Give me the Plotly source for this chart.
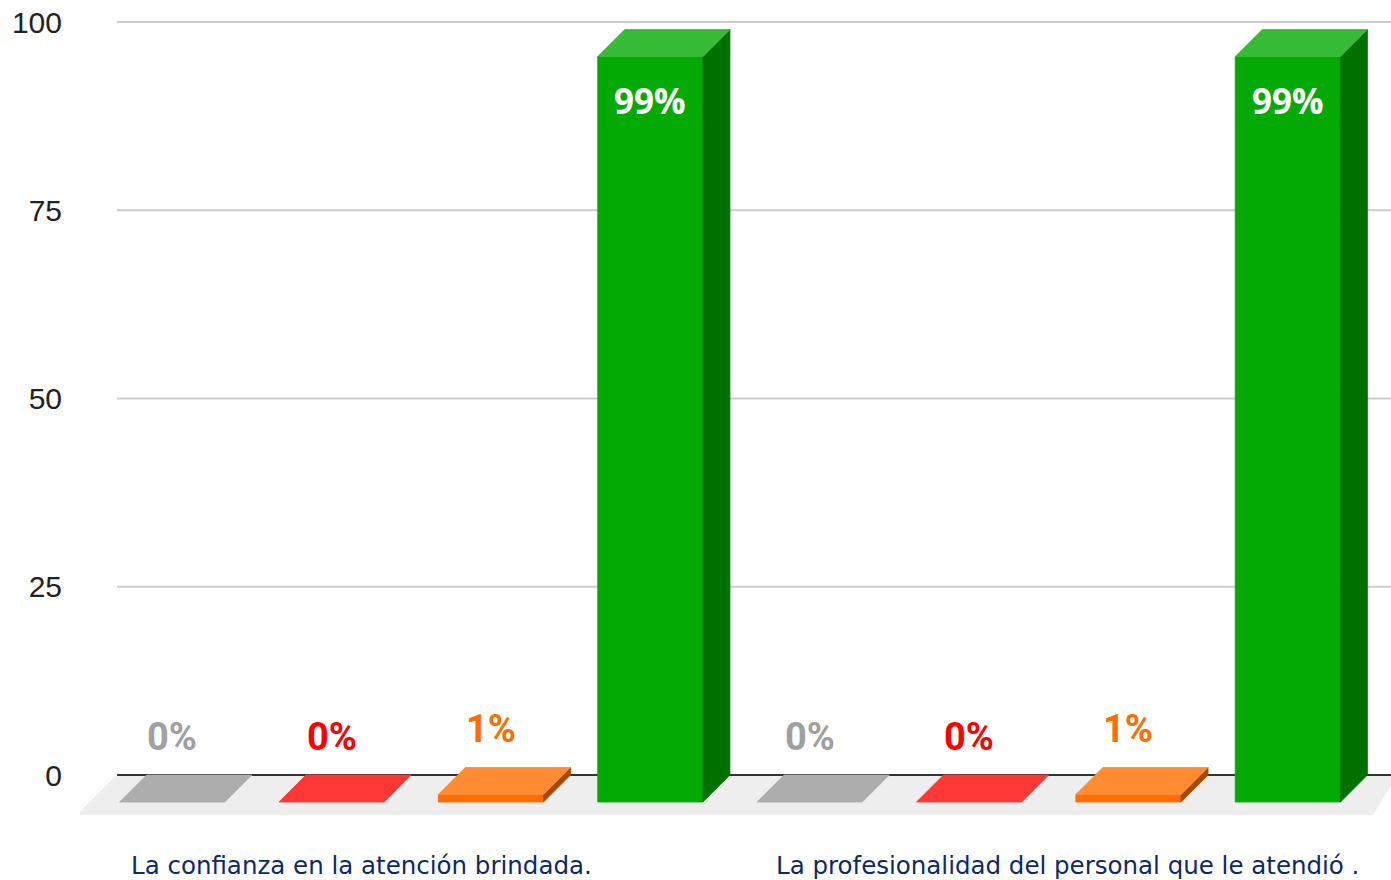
import plotly.graph_objects as go

# ---- data -------------------------------------------------------------
categorias = [
    "La confianza en la atención brindada.",
    "La profesionalidad del personal que le atendió .",
]
valores_gris = [0, 0]
valores_rojo = [0, 0]
valores_naranja = [1, 1]
valores_verde = [99, 99]
ticks_y = [0, 25, 50, 75, 100]

series = [
    # values, front, top, side, label colour
    (valores_gris, "#999999", "#adadad", "#6b6b6b", "#a0a0a0"),
    (valores_rojo, "#ff0000", "#ff3737", "#a80000", "#ff0000"),
    (valores_naranja, "#ff6d00", "#ff8c33", "#a84800", "#ff6d00"),
    (valores_verde, "#04aa04", "#37bb37", "#007000", "#ffffff"),
]

# ---- layout geometry --------------------------------------------------
W, H = 1391, 880
M_L, M_R, M_T, M_B = 80, 0, 20, 65
BAND_PX = 637.5                       # width of one category band
BAND_START_PX = 119.5                 # left edge of the first band
X_RANGE = [-(BAND_START_PX - M_L) / BAND_PX,
           (W - M_R - BAND_START_PX) / BAND_PX]
Y_RANGE = [-5.31, 100.27]
px_x = (W - M_L - M_R) / (X_RANGE[1] - X_RANGE[0])
px_y = (H - M_T - M_B) / (Y_RANGE[1] - Y_RANGE[0])
GRID_X0 = -2.5 / px_x                 # grid starts a touch left of the band

DEPTH_PX = 27          # 3D depth of every bar
FLOOR_PX = 40          # depth of the floor plane
FLOOR_RIGHT_PX = 25    # horizontal shear at the right end of the floor
dx, dy = DEPTH_PX / px_x, DEPTH_PX / px_y
n_series = len(series)
slot = 1.0 / n_series
bar_w = slot * 0.66

fig = go.Figure()


def poly(xs, ys, color):
    fig.add_trace(go.Scatter(
        x=xs + [xs[0]], y=ys + [ys[0]], mode="lines", fill="toself",
        fillcolor=color, line=dict(color=color, width=0.8),
        hoverinfo="skip", showlegend=False,
    ))


# floor
fy = -FLOOR_PX / px_y
x_right = X_RANGE[1] + 0.01
poly([GRID_X0, x_right, x_right - FLOOR_RIGHT_PX / px_x, GRID_X0 - FLOOR_PX / px_x],
     [0, 0, fy, fy], "#eeeeee")

# grid lines
for t in ticks_y[1:]:
    fig.add_trace(go.Scatter(x=[GRID_X0, x_right], y=[t, t], mode="lines",
                             line=dict(color="#cccccc", width=2),
                             hoverinfo="skip", showlegend=False))
# base line
fig.add_trace(go.Scatter(x=[GRID_X0, x_right], y=[0, 0], mode="lines",
                         line=dict(color="#333333", width=2),
                         hoverinfo="skip", showlegend=False))

annotations = []
for ci in range(len(categorias)):
    for si, (vals, c_front, c_top, c_side, c_lab) in enumerate(series):
        v = vals[ci]
        xc = ci + (si + 0.5) * slot
        bx0, bx1 = xc - bar_w / 2, xc + bar_w / 2
        fx0, fx1 = bx0 - dx, bx1 - dx
        # front face
        if v > 0:
            poly([fx0, fx1, fx1, fx0], [-dy, -dy, v - dy, v - dy], c_front)
            # side face
            poly([fx1, bx1, bx1, fx1], [-dy, 0, v, v - dy], c_side)
        # top face
        poly([fx0, fx1, bx1, bx0], [v - dy, v - dy, v, v], c_top)

        fc = (fx0 + fx1) / 2
        if v >= 10:
            annotations.append(dict(
                x=fc, y=v - dy, xref="x", yref="y", text=f"{v}%",
                showarrow=False, yanchor="top", yshift=-18,
                font=dict(family="Open Sans", size=35, color=c_lab, weight="bold"),
            ))
        else:
            annotations.append(dict(
                x=fc, y=v, xref="x", yref="y", text=f"{v}%",
                showarrow=False, yanchor="bottom", yshift=14,
                font=dict(family="Roboto", size=38, color=c_lab, weight="bold"),
            ))

# category labels
label_x = [0.380, 1.487]
for lx, cat in zip(label_x, categorias):
    annotations.append(dict(
        x=lx, y=0, xref="x", yref="paper", text=cat, showarrow=False,
        yanchor="top", yshift=-34,
        font=dict(family="DejaVu Sans", size=24.5, color="#0b2a68"),
    ))

fig.update_layout(
    width=W, height=H,
    margin=dict(l=M_L, r=M_R, t=M_T, b=M_B, pad=0),
    plot_bgcolor="white", paper_bgcolor="white",
    xaxis=dict(range=X_RANGE, visible=False, fixedrange=True),
    yaxis=dict(range=Y_RANGE, tickvals=ticks_y, showgrid=False, zeroline=False,
               showline=False, ticks="", ticklabelstandoff=17,
               tickfont=dict(family="Liberation Sans", size=30, color="#222222"),
               fixedrange=True),
    annotations=annotations,
    showlegend=False,
)

fig.write_html("out.html")
